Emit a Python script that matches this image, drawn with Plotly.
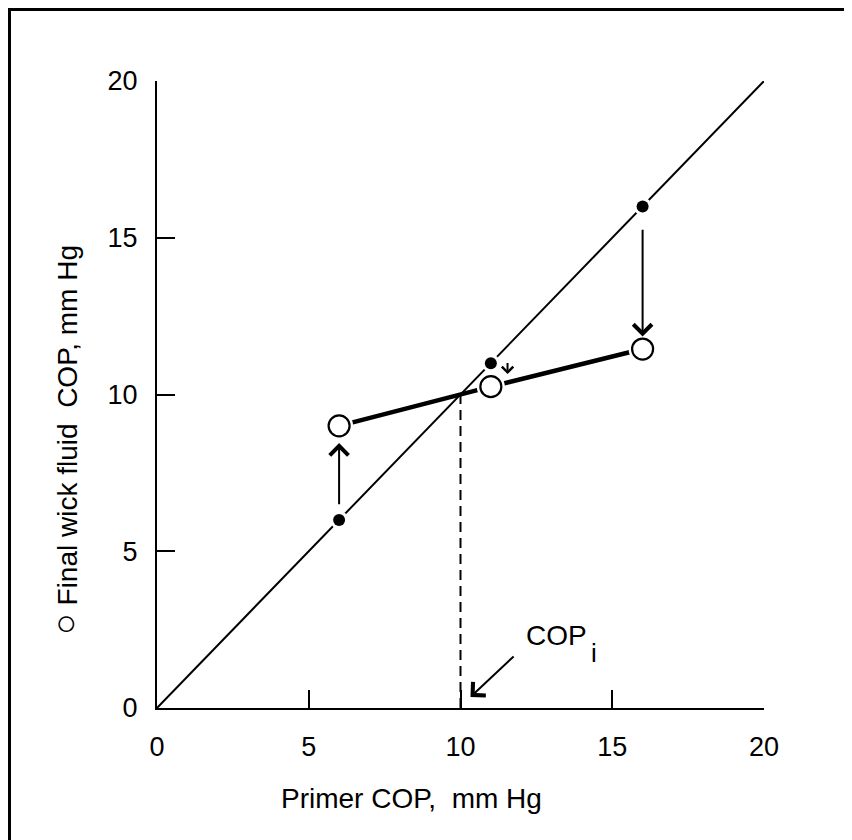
import plotly.graph_objects as go

# ---- data ----
identity_x = [0, 20]
identity_y = [0, 20]
primer_cop = [6, 11, 16]            # filled dots (on identity line)
primer_final_y = [6, 11, 16]
final_cop = [9.0, 10.25, 11.45]     # open circles
cop_i = 10.0                        # intersection
tick_vals = [0, 5, 10, 15, 20]
tick_text = ["0", "5", "10", "15", "20"]

FONT = "Liberation Sans, Arial, Helvetica, sans-serif"

# page body has an 8px margin, so the figure starts at (8, 8) in the window
OFF = 8
L, T, PW, PH = 157 - OFF, 81 - OFF, 607, 627
W, H = 852 - OFF, 840 - OFF


def px_x(p):
    return (p - OFF - L) / PW


def px_y(p):
    return (T + PH - (p - OFF)) / PH


fig = go.Figure()

fig.add_trace(go.Scatter(x=identity_x, y=identity_y, mode="lines",
                         line=dict(color="black", width=2), hoverinfo="skip"))
fig.add_trace(go.Scatter(x=[cop_i, cop_i], y=[0, cop_i], mode="lines",
                         line=dict(color="black", width=2, dash="10px,6px"), hoverinfo="skip"))
fig.add_trace(go.Scatter(x=primer_cop, y=final_cop, mode="lines",
                         line=dict(color="black", width=4.5), hoverinfo="skip"))
fig.add_trace(go.Scatter(x=primer_cop, y=final_cop, mode="markers",
                         marker=dict(size=28, color="white", line=dict(width=0)), hoverinfo="skip"))
fig.add_trace(go.Scatter(x=primer_cop, y=primer_final_y, mode="markers",
                         marker=dict(size=18, color="white", line=dict(width=0)), hoverinfo="skip"))
fig.add_trace(go.Scatter(x=primer_cop, y=final_cop, mode="markers",
                         marker=dict(size=21, color="white", line=dict(color="black", width=2.2))))
fig.add_trace(go.Scatter(x=primer_cop, y=primer_final_y, mode="markers",
                         marker=dict(size=12, color="black", line=dict(width=0))))

annotations = []
arrow_specs = [
    (primer_cop[0], primer_final_y[0] + 0.45, primer_cop[0], final_cop[0] - 0.55, 1.8),
    (primer_cop[2], primer_final_y[2] - 0.7, primer_cop[2], final_cop[2] + 0.4, 1.8),
    (primer_cop[1] + 0.55, primer_final_y[1] + 0.05, primer_cop[1] + 0.55, final_cop[1] + 0.4, 1.1),
]
for tx, ty, hx, hy, sz in arrow_specs:
    annotations.append(dict(x=hx, y=hy, ax=tx, ay=ty, xref="x", yref="y", axref="x", ayref="y",
                            text="", showarrow=True, arrowhead=4, arrowsize=sz,
                            arrowwidth=2, arrowcolor="black"))
annotations.append(dict(x=10.33, y=0.35, ax=11.8, ay=1.69, xref="x", yref="y", axref="x", ayref="y",
                        text="", showarrow=True, arrowhead=4, arrowsize=1.8,
                        arrowwidth=2, arrowcolor="black"))
annotations.append(dict(x=12.1, y=2.3, xref="x", yref="y", text="COP",
                        showarrow=False, xanchor="left", yanchor="middle",
                        font=dict(family=FONT, size=28, color="black")))
annotations.append(dict(x=14.25, y=1.75, xref="x", yref="y", text="i",
                        showarrow=False, xanchor="left", yanchor="middle",
                        font=dict(family=FONT, size=26, color="black")))
annotations.append(dict(x=px_x(411), y=px_y(798), xref="paper", yref="paper",
                        text="Primer COP,  mm Hg", showarrow=False, xanchor="center", yanchor="middle",
                        font=dict(family=FONT, size=28, color="black")))
annotations.append(dict(x=px_x(64), y=px_y(440), xref="paper", yref="paper",
                        text="<span style='font-size:36px'>○</span> Final wick fluid  COP, mm Hg",
                        textangle=-90, showarrow=False,
                        xanchor="center", yanchor="middle",
                        font=dict(family=FONT, size=28, color="black")))

axis_common = dict(range=[0, 20], showgrid=False, zeroline=False, showline=True,
                   linecolor="black", linewidth=2, ticks="inside", ticklen=18, tickwidth=2,
                   tickcolor="black", tickvals=tick_vals, ticktext=tick_text,
                   tickfont=dict(family=FONT, size=27, color="black"), fixedrange=True)

fig.update_layout(
    width=W, height=H,
    margin=dict(l=L, r=W - L - PW, t=T, b=H - T - PH),
    paper_bgcolor="white", plot_bgcolor="white",
    showlegend=False,
    xaxis=dict(**axis_common, ticklabelstandoff=14),
    yaxis=dict(**axis_common, ticklabelstandoff=12),
    annotations=annotations,
    shapes=[dict(type="rect", xref="paper", yref="paper",
                 x0=px_x(OFF + 1.5), x1=px_x(900), y0=px_y(900), y1=px_y(OFF + 1.5),
                 line=dict(color="black", width=3), fillcolor="rgba(0,0,0,0)", layer="below")],
)

fig.write_html("out.html")
